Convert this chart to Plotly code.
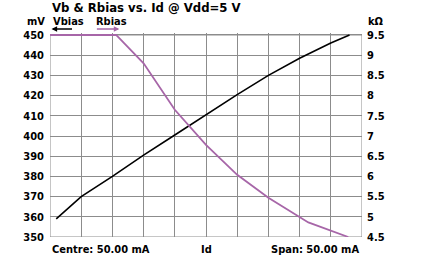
import plotly.graph_objects as go

# Data
vb_id = [26, 30, 35, 40, 45, 50, 55, 60, 65, 70, 73]
vb_mv = [359, 370, 380, 390.5, 400.5, 410.5, 420.5, 430, 438.5, 446, 450]
rb_id = [25, 35.6, 40, 45, 50, 55, 60, 66.4, 72.8]
rb_kohm = [9.5, 9.5, 8.8, 7.65, 6.78, 6.04, 5.47, 4.86, 4.5]

left_ticks = list(range(350, 451, 10))
right_ticks = [4.5, 5, 5.5, 6, 6.5, 7, 7.5, 8, 8.5, 9, 9.5]
right_labels = ["4.5", "5", "5.5", "6", "6.5", "7", "7.5", "8", "8.5", "9", "9.5"]

FONT = "DejaVu Sans Condensed, Liberation Sans, sans-serif"
W, H = 428, 267
PAD = 2  # extra pixels above the frame so the top line is not clipped
L, R, T, B = 49.5, 66, 34.5 - PAD, 29.5
pw, ph = W - L - R, H - T - B
frame_h = ph - PAD
FRAME = "#8c8c8c"

y1_lo, y1_hi = 350, 450
y2_lo, y2_hi = 4.5, 9.5
y1_top = y1_hi + (y1_hi - y1_lo) * PAD / frame_h
y2_top = y2_hi + (y2_hi - y2_lo) * PAD / frame_h

def px(x):
    return (x - L) / pw

def py(y):
    return (H - B - y) / ph

fig = go.Figure()
fig.add_trace(go.Scatter(x=vb_id, y=vb_mv, mode="lines",
                         line=dict(color="black", width=1.6), yaxis="y"))
fig.add_trace(go.Scatter(x=rb_id, y=rb_kohm, mode="lines",
                         line=dict(color="#a766a8", width=1.8), yaxis="y2"))

tick_font = dict(family=FONT, size=11, color="black", weight="bold")
fig.update_layout(
    width=W, height=H,
    margin=dict(l=L, r=R, t=T, b=B),
    paper_bgcolor="white", plot_bgcolor="white",
    showlegend=False,
    font=dict(family=FONT, size=11, color="black"),
    xaxis=dict(range=[25, 75], dtick=5, showticklabels=False,
               showgrid=True, gridcolor=FRAME, gridwidth=1,
               showline=False, zeroline=False, ticks=""),
    yaxis=dict(range=[y1_lo, y1_top], tickvals=left_ticks,
               showgrid=True, gridcolor=FRAME, gridwidth=1,
               showline=False, zeroline=False, ticks="", ticklabelstandoff=5,
               tickfont=tick_font),
    yaxis2=dict(range=[y2_lo, y2_top], tickvals=right_ticks, ticktext=right_labels,
                overlaying="y", side="right", showgrid=False,
                showline=False, zeroline=False, ticks="", ticklabelstandoff=4,
                tickfont=tick_font),
)

# frame drawn below the traces
fig.add_shape(type="rect", xref="x", yref="y", x0=25, x1=75, y0=y1_lo, y1=y1_hi,
              line=dict(color=FRAME, width=1), layer="below")

bold = dict(family=FONT, size=11, color="black", weight="bold")
anns = [
    dict(text="Vb & Rbias vs. Id @ Vdd=5 V", x=px(50), y=py(7), xanchor="left",
         yanchor="middle", font=dict(family=FONT, size=13, color="black", weight="bold")),
    dict(text="mV", x=px(46), y=py(21), xanchor="right", yanchor="middle"),
    dict(text="Vbias", x=px(51), y=py(21), xanchor="left", yanchor="middle"),
    dict(text="Rbias", x=px(94), y=py(21), xanchor="left", yanchor="middle"),
    dict(text="kΩ", x=px(366), y=py(21), xanchor="left", yanchor="middle"),
    dict(text="Centre: 50.00 mA", x=px(50), y=py(250), xanchor="left", yanchor="middle"),
    dict(text="Id", x=px(206), y=py(250), xanchor="center", yanchor="middle"),
    dict(text="Span: 50.00 mA", x=px(361), y=py(250), xanchor="right", yanchor="middle"),
]
for a in anns:
    a.setdefault("font", bold)
    a.update(xref="paper", yref="paper", showarrow=False)
    fig.add_annotation(**a)

# legend arrows
fig.add_annotation(x=px(51), y=py(28.5), ax=22, ay=0, xref="paper", yref="paper",
                   text="", showarrow=True, arrowhead=2, arrowsize=0.8,
                   arrowwidth=1.4, arrowcolor="black")
fig.add_annotation(x=px(119), y=py(28.5), ax=-24, ay=0, xref="paper", yref="paper",
                   text="", showarrow=True, arrowhead=2, arrowsize=0.8,
                   arrowwidth=1.4, arrowcolor="#a766a8")

fig.write_html("out.html")
